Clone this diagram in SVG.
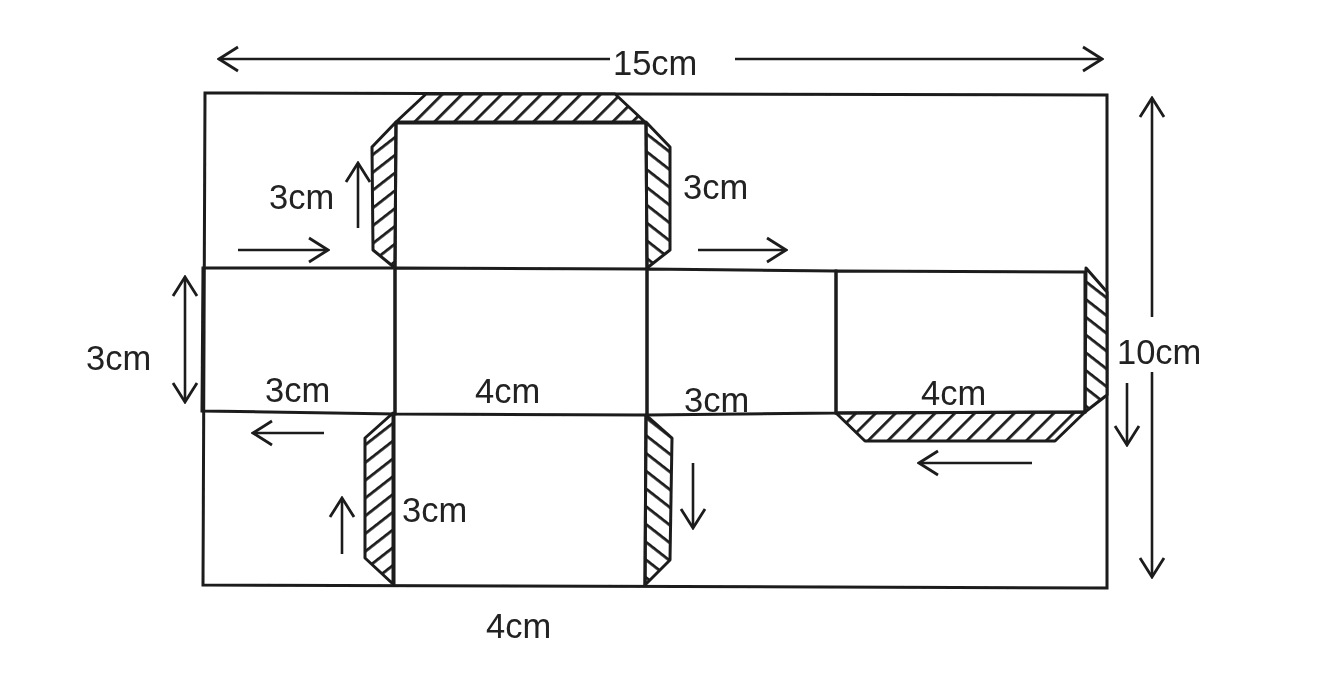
<svg xmlns="http://www.w3.org/2000/svg" width="1342" height="696" viewBox="0 0 1342 696">
<style>
.l{fill:none;stroke:#1c1c1c;stroke-width:3}
.tf{stroke:#1c1c1c;stroke-width:3;stroke-linejoin:round}
.a{fill:none;stroke:#1c1c1c;stroke-width:2.6}
.t{font-family:"Liberation Sans",Arial,sans-serif;font-size:34.5px;fill:#222}
</style>
<defs>
<filter id="soft" x="0" y="0" width="100%" height="100%"><feGaussianBlur stdDeviation="0.6"/></filter>
<pattern id="hb" width="14" height="14" patternUnits="userSpaceOnUse" patternTransform="rotate(38)"><rect width="14" height="14" fill="#fff"/><rect width="14" height="2.8" fill="#1c1c1c"/></pattern>
<pattern id="hf" width="14" height="14" patternUnits="userSpaceOnUse" patternTransform="rotate(-38)"><rect width="14" height="14" fill="#fff"/><rect width="14" height="2.8" fill="#1c1c1c"/></pattern>
<pattern id="hh" width="14" height="14" patternUnits="userSpaceOnUse" patternTransform="rotate(-45)"><rect width="14" height="14" fill="#fff"/><rect width="14" height="2.8" fill="#1c1c1c"/></pattern>
<marker id="o" viewBox="-22 -14 24 28" markerWidth="24" markerHeight="28" refX="0" refY="0" orient="auto-start-reverse" markerUnits="userSpaceOnUse"><path d="M-19,-12 L0,0 L-19,12" fill="none" stroke="#1c1c1c" stroke-width="2.8"/></marker>
</defs>
<rect width="1342" height="696" fill="#fff"/>
<g filter="url(#soft)">
<g id="sheet"><path class="l" d="M205,93 L1107,95 L1107,588 L203,585 Z"/></g>
<g id="tab-top"><path class="tf" fill="url(#hh)" d="M396,122 L426,94 L615,94 L645,122 Z"/></g>
<g id="tab-upper-left"><path class="tf" fill="url(#hf)" d="M396,122 L372,147 L373,250 L395,268 Z"/></g>
<g id="tab-upper-right"><path class="tf" fill="url(#hb)" d="M646,122 L670,147 L670,250 L647,268 Z"/></g>
<g id="tab-lower-left"><path class="tf" fill="url(#hf)" d="M393,413 L365,438 L365,558 L393,584 Z"/></g>
<g id="tab-lower-right"><path class="tf" fill="url(#hb)" d="M646,415 L672,438 L670,560 L645,585 Z"/></g>
<g id="tab-end-right"><path class="tf" fill="url(#hb)" d="M1086,268 L1107,292 L1107,395 L1085,412 Z"/></g>
<g id="tab-end-bottom"><path class="tf" fill="url(#hh)" d="M836,413 L865,441 L1055,441 L1085,412 Z"/></g>
<g id="panel-top"><path class="l" d="M396,123 L645,123 M396,122 L395,268 M646,122 L647,268"/></g>
<g id="panel-left"><path class="l" d="M203,268 L395,268 L395,414 L202,411 Z"/></g>
<g id="panel-middle"><path class="l" d="M395,268 L647,269 L647,415 L395,414 Z"/></g>
<g id="panel-right"><path class="l" d="M647,269 L836,271 L836,413 L647,415 Z"/></g>
<g id="panel-end"><path class="l" d="M836,271 L1085,272 L1085,412 L836,413 Z"/></g>
<g id="panel-bottom"><path class="l" d="M394,414 L394,585 M646,415 L645,585"/></g>
<g id="connectors">
<line class="a" x1="610" y1="59" x2="219" y2="59" marker-end="url(#o)"/>
<line class="a" x1="735" y1="59" x2="1102" y2="59" marker-end="url(#o)"/>
<line class="a" x1="1152" y1="317" x2="1152" y2="98" marker-end="url(#o)"/>
<line class="a" x1="1152" y1="372" x2="1152" y2="577" marker-end="url(#o)"/>
<line class="a" x1="185" y1="277" x2="185" y2="402" marker-start="url(#o)" marker-end="url(#o)"/>
<line class="a" x1="238" y1="250" x2="328" y2="250" marker-end="url(#o)"/>
<line class="a" x1="358" y1="228" x2="358" y2="163" marker-end="url(#o)"/>
<line class="a" x1="698" y1="250" x2="786" y2="250" marker-end="url(#o)"/>
<line class="a" x1="1127" y1="383" x2="1127" y2="445" marker-end="url(#o)"/>
<line class="a" x1="324" y1="433" x2="253" y2="433" marker-end="url(#o)"/>
<line class="a" x1="342" y1="554" x2="342" y2="498" marker-end="url(#o)"/>
<line class="a" x1="693" y1="463" x2="693" y2="528" marker-end="url(#o)"/>
<line class="a" x1="1032" y1="463" x2="919" y2="463" marker-end="url(#o)"/>
</g>
<g id="labels">
<rect x="612" y="45" width="84" height="32" fill="#fff"/>
<text class="t" x="613" y="75">15cm</text>
<text class="t" x="269" y="209">3cm</text>
<text class="t" x="683" y="199">3cm</text>
<text class="t" x="86" y="370">3cm</text>
<text class="t" x="265" y="402">3cm</text>
<text class="t" x="475" y="403">4cm</text>
<text class="t" x="684" y="412">3cm</text>
<text class="t" x="921" y="405">4cm</text>
<text class="t" x="1117" y="364">10cm</text>
<text class="t" x="402" y="522">3cm</text>
<text class="t" x="486" y="638">4cm</text>
</g>
</g>
</svg>
